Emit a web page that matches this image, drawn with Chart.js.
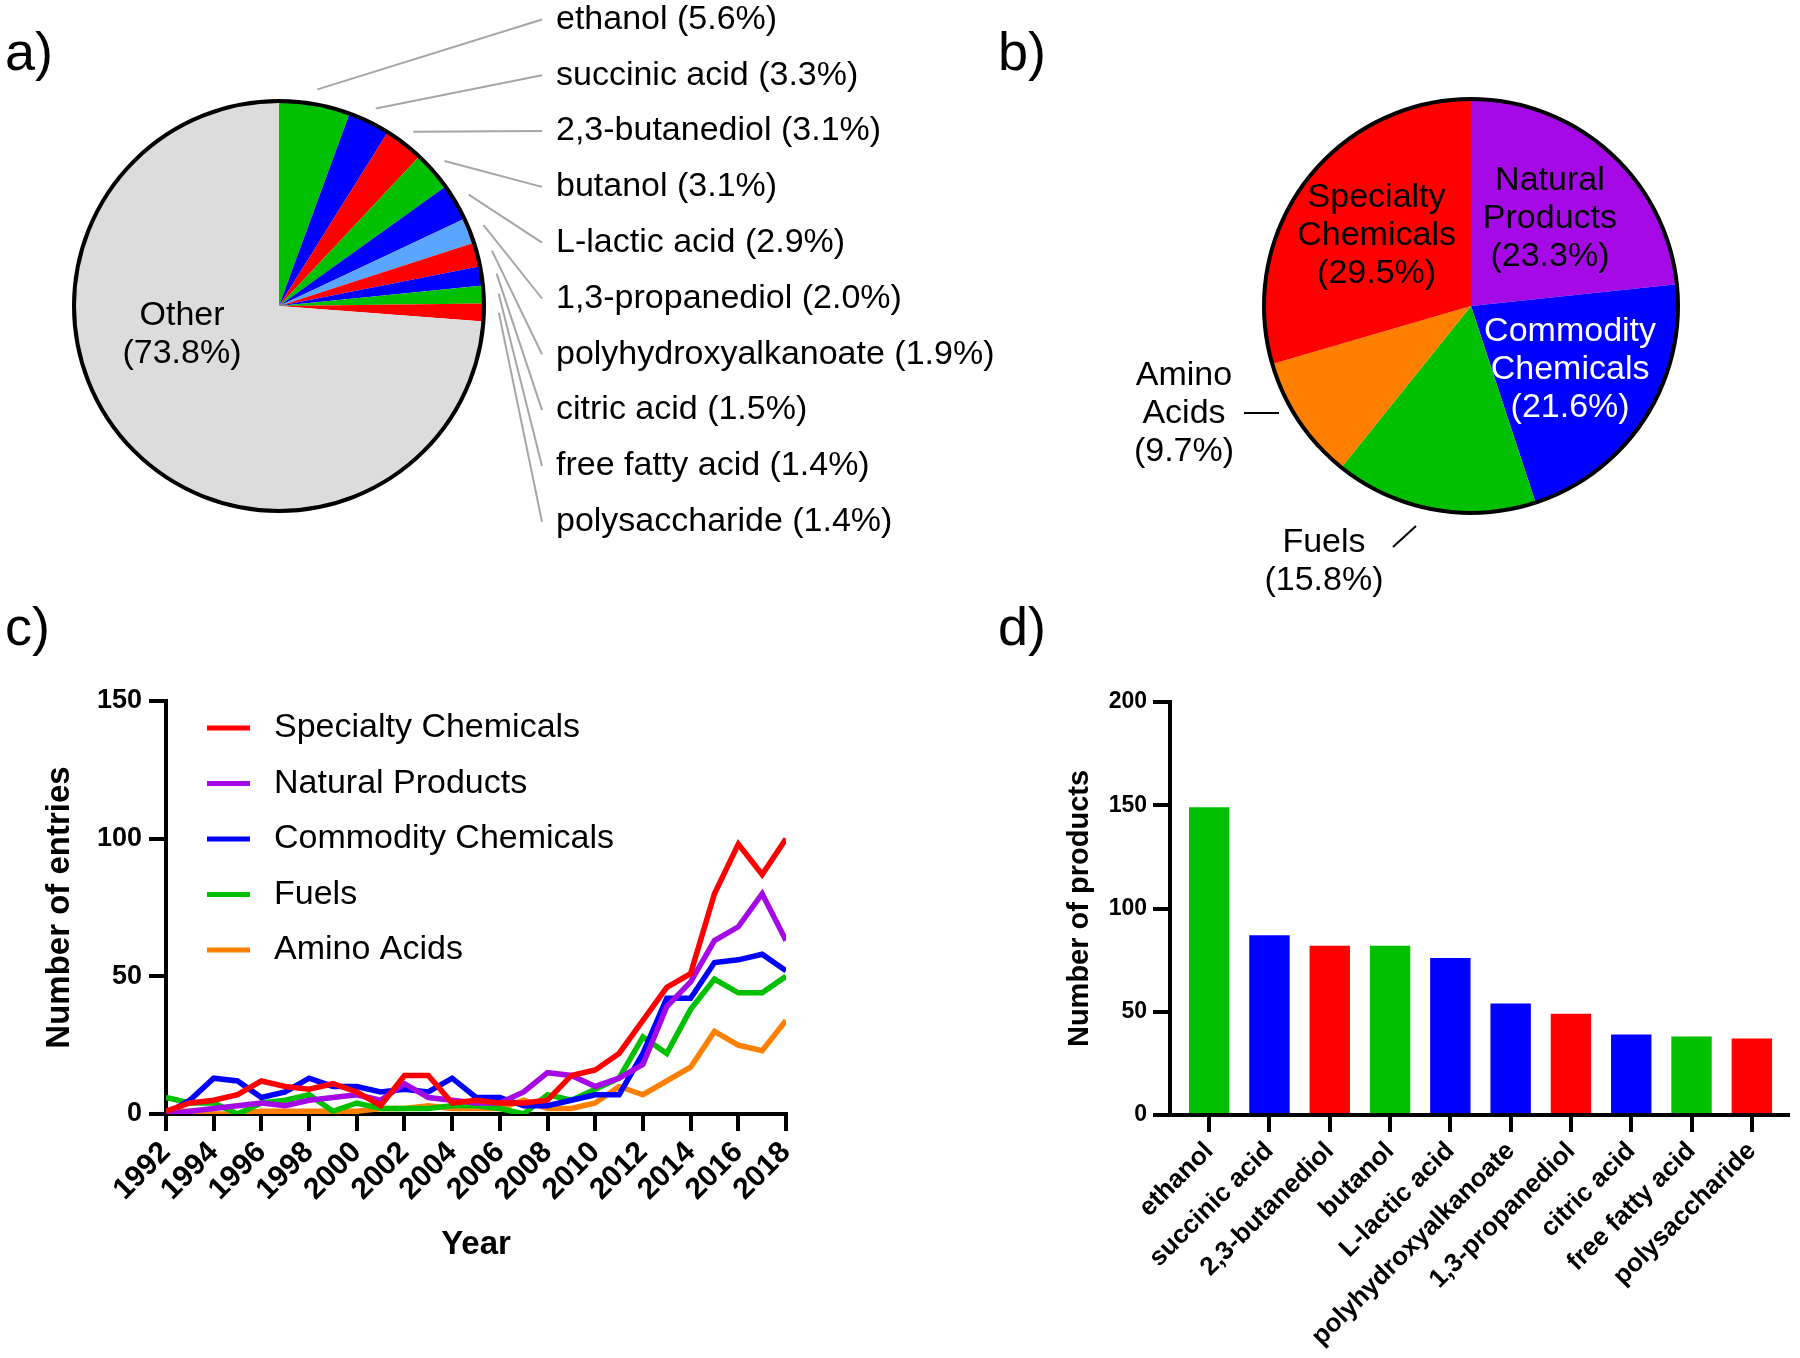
<!DOCTYPE html>
<html>
<head>
<meta charset="utf-8">
<script src="https://cdn.jsdelivr.net/npm/chart.js@4.4.1/dist/chart.umd.min.js"></script>
<style>
  body { margin: 0; background: #fff; width: 1800px; height: 1358px; position: relative; overflow: hidden;
         font-family: "Liberation Sans", Arial, sans-serif; }
  .panel { position: absolute; }
  .tag { position: absolute; font-size: 54px; line-height: 1; color: #000; }
</style>
</head>
<body>
<div class="tag" style="left:5px;top:24px">a)</div>
<div class="tag" style="left:998px;top:24px">b)</div>
<div class="tag" style="left:5px;top:599px">c)</div>
<div class="tag" style="left:998px;top:599px">d)</div>

<div class="panel" style="left:0;top:0;width:1000px;height:560px"><canvas id="pieA"></canvas></div>
<div class="panel" style="left:1000px;top:60px;width:800px;height:560px"><canvas id="pieB"></canvas></div>
<div class="panel" style="left:0;top:560px;width:860px;height:798px"><canvas id="lineC"></canvas></div>
<div class="panel" style="left:900px;top:560px;width:900px;height:798px"><canvas id="barD"></canvas></div>

<script>
// a) share of products
const productNames = ['ethanol', 'succinic acid', '2,3-butanediol', 'butanol', 'L-lactic acid',
  '1,3-propanediol', 'polyhydroxyalkanoate', 'citric acid', 'free fatty acid', 'polysaccharide', 'Other'];
const productShare = [5.6, 3.3, 3.1, 3.1, 2.9, 2.0, 1.9, 1.5, 1.4, 1.4, 73.8];

// b) share of categories
const categoryNames = ['Natural Products', 'Commodity Chemicals', 'Fuels', 'Amino Acids', 'Specialty Chemicals'];
const categoryShare = [23.3, 21.6, 15.8, 9.7, 29.5];

// c) entries per year
const years = [1992, 1993, 1994, 1995, 1996, 1997, 1998, 1999, 2000, 2001, 2002, 2003, 2004, 2005,
  2006, 2007, 2008, 2009, 2010, 2011, 2012, 2013, 2014, 2015, 2016, 2017, 2018];
const specialty = [1, 4, 5, 7, 12, 10, 9, 11, 8, 3, 14, 14, 4, 5, 4, 4, 5, 14, 16, 22, 34, 46, 51, 80, 98, 87, 100];
const natural = [0, 1, 2, 3, 4, 3, 5, 6, 7, 5, 11, 6, 5, 4, 4, 8, 15, 14, 10, 13, 18, 39, 48, 63, 68, 80, 63];
const commodity = [0, 5, 13, 12, 6, 8, 13, 10, 10, 8, 9, 8, 13, 6, 6, 3, 3, 5, 7, 7, 22, 42, 42, 55, 56, 58, 52];
const fuels = [6, 4, 4, 0, 4, 5, 7, 1, 4, 2, 2, 2, 3, 3, 2, 0, 7, 5, 9, 13, 28, 22, 38, 49, 44, 44, 50];
const amino = [1, 1, 0, 0, 1, 1, 1, 1, 1, 2, 2, 3, 2, 2, 2, 5, 2, 2, 4, 10, 7, 12, 17, 30, 25, 23, 34];
const yTicksC = [0, 50, 100, 150];

// d) number of products
const barProducts = ['ethanol', 'succinic acid', '2,3-butanediol', 'butanol', 'L-lactic acid',
  'polyhydroxyalkanoate', '1,3-propanediol', 'citric acid', 'free fatty acid', 'polysaccharide'];
const barCounts = [149, 87, 82, 82, 76, 54, 49, 39, 38, 37];
const yTicksD = [0, 50, 100, 150, 200];

const RED = '#ff0000', BLUE = '#0000ff', GREEN = '#00c000', ORANGE = '#ff8000',
      PURPLE = '#a50ae6', LIGHTBLUE = '#5aa5ff', GRAY = '#dcdcdc';
const FONT = '"Liberation Sans", Arial, sans-serif';

Chart.defaults.font.family = FONT;
Chart.defaults.color = '#000';
Chart.defaults.animation = false;
Chart.defaults.devicePixelRatio = 1;
Chart.defaults.plugins.legend.display = false;
Chart.defaults.plugins.tooltip.enabled = false;

function ring(chart) {
  const arc = chart.getDatasetMeta(0).data[0];
  const ctx = chart.ctx;
  ctx.beginPath();
  ctx.arc(arc.x, arc.y, arc.outerRadius, 0, Math.PI * 2);
  ctx.lineWidth = 4;
  ctx.strokeStyle = '#000';
  ctx.stroke();
}

const pieALabels = {
  id: 'pieALabels',
  afterDatasetsDraw(chart, args, o) {
    const ctx = chart.ctx;
    const arcs = chart.getDatasetMeta(0).data;
    const vals = chart.data.datasets[0].data;
    ctx.save();
    ring(chart);
    ctx.font = '34px ' + FONT;
    ctx.textBaseline = 'middle';
    ctx.fillStyle = '#000';
    chart.data.labels.forEach((name, i) => {
      const a = arcs[i];
      const pct = '(' + vals[i].toFixed(1) + '%)';
      if (name === 'Other') {
        ctx.textAlign = 'center';
        ctx.fillText(name, a.x + o.otherDx, a.y + o.otherDy);
        ctx.fillText(pct, a.x + o.otherDx, a.y + o.otherDy + o.lineGap);
        return;
      }
      const mid = (a.startAngle + a.endAngle) / 2;
      const r = a.outerRadius + o.gap;
      const ly = o.top + i * o.step;
      ctx.beginPath();
      ctx.moveTo(a.x + r * Math.cos(mid), a.y + r * Math.sin(mid));
      ctx.lineTo(o.lineEnd, ly);
      ctx.lineWidth = 2;
      ctx.strokeStyle = '#a6a6a6';
      ctx.stroke();
      ctx.textAlign = 'left';
      ctx.fillText(name + ' ' + pct, o.textX, ly);
    });
    ctx.restore();
  }
};

new Chart(document.getElementById('pieA'), {
  type: 'pie',
  data: {
    labels: productNames,
    datasets: [{
      data: productShare,
      backgroundColor: [GREEN, BLUE, RED, GREEN, BLUE, LIGHTBLUE, RED, BLUE, GREEN, RED, GRAY],
      borderWidth: 0,
      radius: 205
    }]
  },
  options: {
    responsive: true,
    maintainAspectRatio: false,
    layout: { padding: { left: 69, right: 511, top: 96, bottom: 44 } },
    plugins: {
      pieALabels: { gap: 15, top: 19.5, step: 55.8, lineEnd: 542, textX: 556,
                    otherDx: -97, otherDy: 10, lineGap: 38 }
    }
  },
  plugins: [pieALabels]
});

const pieBLabels = {
  id: 'pieBLabels',
  afterDatasetsDraw(chart, args, o) {
    const ctx = chart.ctx;
    const arcs = chart.getDatasetMeta(0).data;
    const vals = chart.data.datasets[0].data;
    ctx.save();
    ring(chart);
    ctx.font = '34px ' + FONT;
    ctx.textAlign = 'center';
    ctx.textBaseline = 'middle';
    chart.data.labels.forEach((name, i) => {
      const a = arcs[i];
      const lines = name.split(' ').concat('(' + vals[i].toFixed(1) + '%)');
      let cx, cy;
      const out = o.outside[name];
      if (out) {
        cx = a.x + out.dx;
        cy = a.y + out.dy;
        ctx.beginPath();
        ctx.moveTo(a.x + out.line[0], a.y + out.line[1]);
        ctx.lineTo(a.x + out.line[2], a.y + out.line[3]);
        ctx.lineWidth = 2;
        ctx.strokeStyle = '#000';
        ctx.stroke();
      } else {
        const mid = (a.startAngle + a.endAngle) / 2;
        cx = a.x + o.inner * a.outerRadius * Math.cos(mid);
        cy = a.y + o.inner * a.outerRadius * Math.sin(mid);
      }
      ctx.fillStyle = o.textColor[name] || '#000';
      const y0 = cy - (lines.length - 1) * o.lineGap / 2;
      lines.forEach((t, k) => ctx.fillText(t, cx, y0 + k * o.lineGap));
    });
    ctx.restore();
  }
};

new Chart(document.getElementById('pieB'), {
  type: 'pie',
  data: {
    labels: categoryNames,
    datasets: [{
      data: categoryShare,
      backgroundColor: [PURPLE, BLUE, GREEN, ORANGE, RED],
      borderWidth: 0,
      radius: 207
    }]
  },
  options: {
    responsive: true,
    maintainAspectRatio: false,
    layout: { padding: { left: 261, right: 119, top: 36, bottom: 104 } },
    plugins: {
      pieBLabels: {
        inner: 0.57,
        lineGap: 38,
        textColor: { 'Commodity Chemicals': '#fff' },
        outside: {
          'Amino Acids': { dx: -287, dy: 108, line: [-227, 107, -192, 107] },
          'Fuels': { dx: -147, dy: 256, line: [-78, 241, -55, 220] }
        }
      }
    }
  },
  plugins: [pieBLabels]
});

const lineLegend = {
  id: 'lineLegend',
  afterDraw(chart, args, o) {
    const ctx = chart.ctx;
    ctx.save();
    ctx.font = '34px ' + FONT;
    ctx.textBaseline = 'middle';
    ctx.textAlign = 'left';
    ctx.fillStyle = '#000';
    chart.data.datasets.forEach((ds, i) => {
      const y = o.top + i * o.step;
      ctx.beginPath();
      ctx.moveTo(o.x0, y);
      ctx.lineTo(o.x1, y);
      ctx.lineWidth = 5;
      ctx.strokeStyle = ds.borderColor;
      ctx.stroke();
      ctx.fillText(ds.label, o.textX, y);
    });
    ctx.restore();
  }
};

const axisGrid = { display: true, drawOnChartArea: false, drawTicks: true, tickLength: 17, lineWidth: 4, color: '#000' };
const axisBorder = { display: true, width: 4, color: '#000' };

new Chart(document.getElementById('lineC'), {
  type: 'line',
  data: {
    labels: years,
    datasets: [
      { label: 'Specialty Chemicals', data: specialty, borderColor: RED },
      { label: 'Natural Products', data: natural, borderColor: PURPLE },
      { label: 'Commodity Chemicals', data: commodity, borderColor: BLUE },
      { label: 'Fuels', data: fuels, borderColor: GREEN },
      { label: 'Amino Acids', data: amino, borderColor: ORANGE }
    ].map(d => Object.assign(d, { borderWidth: 5.5, pointRadius: 0, tension: 0, fill: false }))
  },
  options: {
    responsive: true,
    maintainAspectRatio: false,
    layout: { padding: { left: 0, right: 74, top: 141, bottom: 0 } },
    scales: {
      x: {
        type: 'linear', min: years[0], max: years[years.length - 1], offset: false,
        afterFit: s => { s.height = 244; },
        grid: Object.assign({ offset: false }, axisGrid), border: axisBorder,
        ticks: { stepSize: 2, autoSkip: false, minRotation: 45, maxRotation: 45, padding: 4,
                 font: { size: 30, weight: 'bold' }, callback: v => String(v) },
        title: { display: true, text: 'Year', font: { size: 33, weight: 'bold' }, padding: { bottom: 93 } }
      },
      y: {
        min: yTicksC[0], max: yTicksC[yTicksC.length - 1],
        afterFit: s => { s.width = 166; },
        afterBuildTicks: s => { s.ticks = yTicksC.map(v => ({ value: v })); },
        grid: axisGrid, border: axisBorder,
        ticks: { padding: 7, font: { size: 27, weight: 'bold' } },
        title: { display: true, text: 'Number of entries', font: { size: 33, weight: 'bold' }, padding: { top: 40 } }
      }
    },
    plugins: { lineLegend: { x0: 207, x1: 250, textX: 274, top: 168, step: 55.5 } }
  },
  plugins: [lineLegend]
});

new Chart(document.getElementById('barD'), {
  type: 'bar',
  data: {
    datasets: [{
      data: barCounts.map((v, i) => ({ x: i, y: v })),
      backgroundColor: [GREEN, BLUE, RED, GREEN, BLUE, BLUE, RED, BLUE, GREEN, RED],
      borderWidth: 0,
      categoryPercentage: 1,
      barPercentage: 0.67
    }]
  },
  options: {
    responsive: true,
    maintainAspectRatio: false,
    layout: { padding: { left: 150, right: 12, top: 142, bottom: 0 } },
    scales: {
      x: {
        type: 'linear', min: -0.65, max: 9.6, offset: false,
        afterFit: s => { s.height = 243; },
        afterBuildTicks: s => { s.ticks = barProducts.map((_, i) => ({ value: i })); },
        grid: Object.assign({ offset: false }, axisGrid), border: axisBorder,
        ticks: { autoSkip: false, minRotation: 45, maxRotation: 45, padding: 4,
                 font: { size: 26, weight: 'bold' }, callback: v => barProducts[v] }
      },
      y: {
        min: yTicksD[0], max: yTicksD[yTicksD.length - 1],
        afterFit: s => { s.width = 120; },
        afterBuildTicks: s => { s.ticks = yTicksD.map(v => ({ value: v })); },
        grid: axisGrid, border: axisBorder,
        ticks: { padding: 6, font: { size: 23, weight: 'bold' } },
        title: { display: true, text: 'Number of products', font: { size: 29, weight: 'bold' }, padding: { top: 13 } }
      }
    }
  }
});
</script>
</body>
</html>
